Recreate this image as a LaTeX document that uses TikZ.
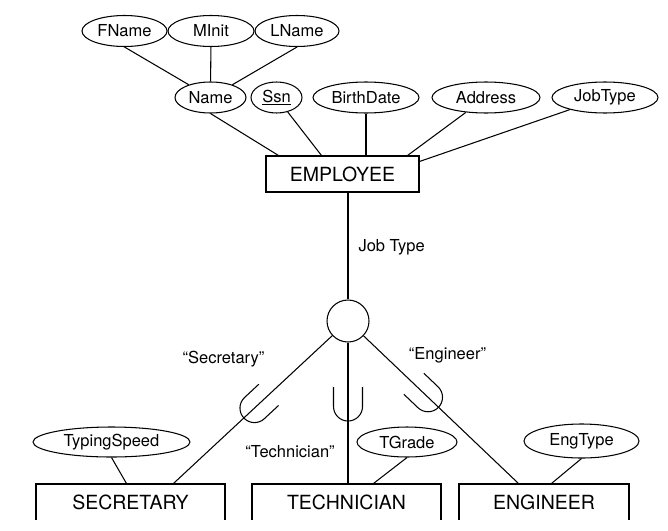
\documentclass[tikz,border=0pt]{standalone}
\usepackage{fontspec}
\setmainfont{TeX Gyre Heros}
\usetikzlibrary{shapes.geometric}
\tikzset{subsetmark/.pic={\draw (-19.5pt,14.5pt) -- (0pt,14.5pt) arc[start angle=90,end angle=-90,radius=14.5pt] -- (-19.5pt,-14.5pt);}}
\begin{document}
\begin{tikzpicture}[x=1pt,y=1pt,line width=1.05pt,
  attr/.style={ellipse,draw,inner sep=0pt,minimum height=31pt,font=\fontsize{16.5}{18}\selectfont},
  entity/.style={rectangle,draw,inner sep=0pt,minimum height=37pt,font=\fontsize{19.5}{22}\selectfont},
  lbl/.style={inner sep=0pt,font=\fontsize{16.5}{18}\selectfont}]
\useasboundingbox (0,0) rectangle (668,-530);
\clip (0,0) rectangle (668,-519); % figure is cut off at the bottom
\node[attr,minimum width=85pt] (fname) at (124.5,-31) {FName};
\node[attr,minimum width=86pt] (minit) at (211,-31) {MInit};
\node[attr,minimum width=84pt] (lname) at (297,-31) {LName};
\node[attr,minimum width=71pt] (name) at (210.5,-97.5) {Name};
\node[attr,minimum width=51pt] (ssn) at (276.5,-97.5) {\underline{Ssn}};
\node[attr,minimum width=106pt] (bdate) at (366,-97.5) {BirthDate};
\node[attr,minimum width=108pt] (address) at (486,-97.5) {Address};
\node[attr,minimum width=106pt] (jobtype) at (605,-97.5) {JobType};
\node[entity,minimum width=153pt,minimum height=36pt] (emp) at (342.5,-174) {EMPLOYEE};
\draw (fname.south) -- (name);
\draw (minit) -- (name);
\draw (lname.south) -- (name);
\draw (name.south) -- ([xshift=13pt]emp.north west);
\draw (ssn) -- ([xshift=56pt]emp.north west);
\draw (bdate) -- (bdate |- emp.north);
\draw (address) -- ([xshift=-12pt]emp.north east);
\draw (jobtype) -- ([yshift=-6pt]emp.north east);
\node[circle,draw,minimum size=42pt,inner sep=0pt] (circ) at (348,-321) {};
\draw (circ |- emp.south) -- (circ);
\node[lbl,anchor=west] (jtlab) at (358,-247) {Job Type};
\node[entity,minimum width=189pt] (sec) at (130.5,-502.5) {SECRETARY};
\node[entity,minimum width=189pt] (tech) at (346.5,-502.5) {TECHNICIAN};
\node[entity,minimum width=170pt] (eng) at (544,-502.5) {ENGINEER};
\draw (circ) -- ([xshift=138pt]sec.north west) pic[pos=.49,sloped,allow upside down]{subsetmark};
\draw (circ) -- (circ |- tech.north) pic[pos=.454,sloped,allow upside down]{subsetmark};
\draw (circ) -- ([xshift=60pt]eng.north west) pic[pos=.416,sloped,allow upside down]{subsetmark};
\node[lbl] (seclab) at (223.5,-359) {“Secretary”};
\node[lbl] (techlab) at (290,-452) {“Technician”};
\node[lbl] (englab) at (447.5,-355) {“Engineer”};
\node[attr,minimum width=157pt,minimum height=30pt] (tspeed) at (111.5,-442) {TypingSpeed};
\node[attr,minimum width=100pt,minimum height=30pt] (tgrade) at (407,-442) {TGrade};
\node[attr,minimum width=115pt,minimum height=34pt] (engtype) at (581.5,-441) {EngType};
\draw (tspeed.south) -- ([xshift=91pt]sec.north west);
\draw (tgrade.south) -- ([xshift=122pt]tech.north west);
\draw (engtype.south) -- ([xshift=93pt]eng.north west);
\end{tikzpicture}
\end{document}
